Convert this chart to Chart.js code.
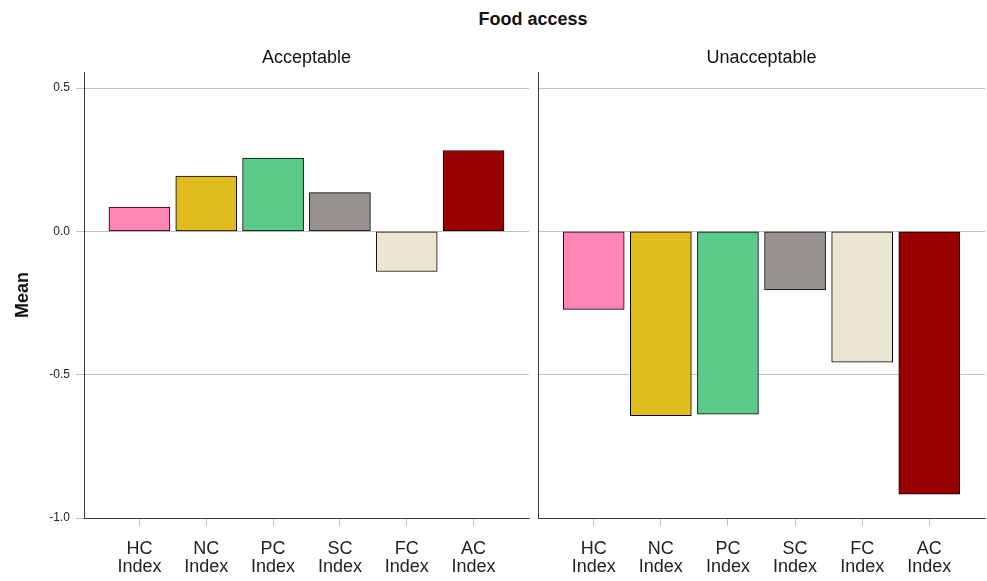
<!DOCTYPE html>
<html>
<head>
<meta charset="utf-8">
<title>Food access</title>
<script src="https://cdn.jsdelivr.net/npm/chart.js@4.4.1/dist/chart.umd.min.js"></script>
<style>
  html, body { margin: 0; padding: 0; background: #fff; }
  #wrap { position: relative; width: 987px; height: 581px; overflow: hidden; }
  #mainTitle {
    position: absolute; left: 383px; top: 8px; width: 300px; text-align: center;
    font: bold 18px "Liberation Sans", Arial, sans-serif; line-height: 22px; color: #111;
  }
  .panel { position: absolute; top: 0; height: 581px; }
  #left { left: 0; width: 532px; }
  #right { left: 530px; width: 457px; }
</style>
</head>
<body>
<div id="wrap">
  <div id="mainTitle">Food access</div>
  <div class="panel" id="left"><canvas id="chartLeft"></canvas></div>
  <div class="panel" id="right"><canvas id="chartRight"></canvas></div>
</div>
<script>
const categories = ["HC Index", "NC Index", "PC Index", "SC Index", "FC Index", "AC Index"]
const acceptable = [0.085, 0.193, 0.256, 0.135, -0.140, 0.282]
const unacceptable = [-0.272, -0.643, -0.638, -0.204, -0.456, -0.917]
const barColors = ["#ff85b4", "#e0bc1f", "#5ccb8a", "#969391", "#ebe6d2", "#990000"]
const yTicks = [-1.0, -0.5, 0.0, 0.5]

Chart.defaults.font.family = '"Liberation Sans", Arial, sans-serif'
Chart.defaults.color = "#222"

const gridColor = "#c2c2c2"
const axisColor = "#3a3a3a"

function makePanel(canvasId, title, values, showYAxis) {
  const ctx = document.getElementById(canvasId).getContext("2d")
  return new Chart(ctx, {
    type: "bar",
    data: {
      datasets: [
        {
          data: values.map((v, i) => ({ x: i, y: v })),
          backgroundColor: barColors,
          borderColor: "#000",
          borderWidth: 1,
          borderSkipped: false,
          barThickness: 61,
        },
      ],
    },
    options: {
      responsive: true,
      maintainAspectRatio: false,
      animation: false,
      layout: { padding: { top: 0, right: showYAxis ? 3 : 2, bottom: 0, left: 0 } },
      plugins: {
        legend: { display: false },
        tooltip: { enabled: false },
        title: {
          display: true,
          text: title,
          fullSize: false,
          color: "#111",
          font: { size: 18, weight: "normal", lineHeight: 1.2 },
          padding: { top: 47, bottom: 3.4 },
        },
      },
      scales: {
        x: {
          type: "linear",
          min: -0.83,
          max: 5.83,
          offset: false,
          afterBuildTicks: (scale) => {
            scale.ticks = categories.map((_, i) => ({ value: i }))
          },
          afterFit: (scale) => {
            scale.height = 63
          },
          ticks: {
            autoSkip: false,
            maxRotation: 0,
            padding: 14,
            color: "#222",
            font: { size: 18, lineHeight: 1.0 },
            callback: (value, index) => categories[index].split(" "),
          },
          grid: {
            offset: false,
            drawOnChartArea: false,
            drawTicks: true,
            tickLength: 8,
            color: gridColor,
          },
          border: { display: true, color: axisColor, width: 1 },
        },
        y: {
          min: -1.0,
          max: 0.556,
          afterBuildTicks: (scale) => {
            scale.ticks = yTicks.map((v) => ({ value: v }))
          },
          afterFit: (scale) => {
            scale.width = showYAxis ? 84 : 8
          },
          title: {
            display: showYAxis,
            text: "Mean",
            color: "#111",
            font: { size: 18, weight: "bold", lineHeight: 1.2 },
            padding: { top: 12, bottom: 0 },
          },
          ticks: {
            display: showYAxis,
            padding: 6,
            color: "#222",
            font: { size: 12 },
            callback: (value) => value.toFixed(1),
          },
          grid: {
            drawTicks: showYAxis,
            tickLength: showYAxis ? 8 : 0,
            color: gridColor,
          },
          border: { display: true, color: axisColor, width: 1 },
        },
      },
    },
  })
}

makePanel("chartLeft", "Acceptable", acceptable, true)
makePanel("chartRight", "Unacceptable", unacceptable, false)
</script>
</body>
</html>
